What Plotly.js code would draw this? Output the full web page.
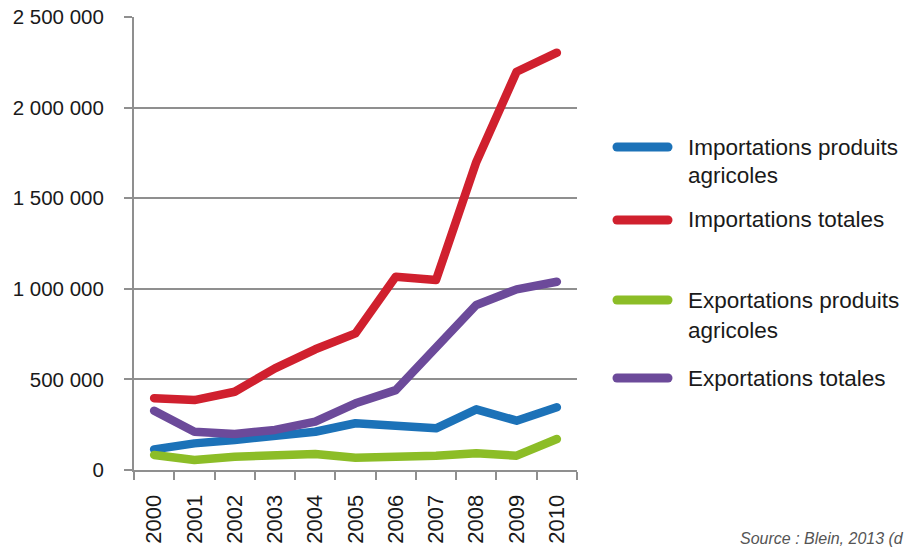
<!DOCTYPE html>
<html>
<head>
<meta charset="utf-8">
<script src="https://cdn.plot.ly/plotly-3.0.1.min.js"></script>
<style>
html,body{margin:0;padding:0;background:#fff;}
#chart{width:909px;height:551px;}
.scatterlayer .js-line{stroke-linecap:round;stroke-linejoin:round;}
.shapelayer path{stroke-linecap:round;}
</style>
</head>
<body>
<div id="chart"></div>
<script>
// ---- data ----
var years = ["2000","2001","2002","2003","2004","2005","2006","2007","2008","2009","2010"];
var importAgri   = [114000, 147000, 166000, 188000, 211000, 258000, 239000, 230000, 335000, 272000, 346000];
var importTotal  = [396000, 386000, 432000, 561000, 666000, 754000, 1067000, 1049000, 1700000, 2198000, 2303000];
var exportAgri   = [83000, 55000, 73000, 79000, 88000, 68000, 68000, 79000, 92000, 79000, 171000];
var exportTotal  = [327000, 211000, 199000, 221000, 267000, 368000, 441000, 680000, 911000, 997000, 1039000];
var seriesNames  = ["Importations produits agricoles", "Importations totales", "Exportations produits agricoles", "Exportations totales"];
var legendLines  = [["Importations produits", "agricoles"], ["Importations totales"], ["Exportations produits", "agricoles"], ["Exportations totales"]];
var yTickVals    = [0, 500000, 1000000, 1500000, 2000000, 2500000];
var yTickLabels  = ["0", "500 000", "1 000 000", "1 500 000", "2 000 000", "2 500 000"];
var sourceText   = "Source : Blein, 2013 (d";

// ---- styles ----
var colors = ["#1c72b8", "#d0202e", "#8cbd27", "#6c4a9a"];
var seriesData = [importAgri, importTotal, exportAgri, exportTotal];
var FONT = "Liberation Sans, Arial, sans-serif";
var gridCol = "#8f8f8f";

var W = 909, H = 551;
var mL = 134, mR = 332, mT = 17, mB = 81;
var plotW = W - mL - mR, plotH = H - mT - mB;
function px(x){ return (x - mL) / plotW; }
function py(y){ return (H - mB - y) / plotH; }

var traces = seriesData.map(function(vals, i){
  return {
    type: "scatter", mode: "lines",
    x: years, y: vals, name: seriesNames[i],
    line: {color: colors[i], width: 8.5},
    hoverinfo: "x+y+name"
  };
});

// custom legend
var legendY = [[147, 175], [220], [300, 330], [378]];
var shapes = [], annotations = [];
for (var i = 0; i < 4; i++) {
  shapes.push({
    type: "line", xref: "paper", yref: "paper",
    x0: px(617), x1: px(668), y0: py(legendY[i][0]), y1: py(legendY[i][0]),
    line: {color: colors[i], width: 9}
  });
  for (var j = 0; j < legendLines[i].length; j++) {
    annotations.push({
      xref: "paper", yref: "paper", x: px(686), y: py(legendY[i][j]),
      xanchor: "left", yanchor: "middle", showarrow: false,
      text: legendLines[i][j], font: {family: FONT, size: 22.5, color: "#1a1a1a"}
    });
  }
}
annotations.push({
  xref: "paper", yref: "paper", x: px(906), y: py(538),
  xanchor: "right", yanchor: "middle", showarrow: false,
  text: "<i>" + sourceText + "</i>", font: {family: FONT, size: 16, color: "#555555"}
});

var layout = {
  width: W, height: H,
  margin: {l: mL, r: mR, t: mT, b: mB, pad: 0},
  paper_bgcolor: "#ffffff", plot_bgcolor: "#ffffff",
  showlegend: false,
  font: {family: FONT, color: "#1a1a1a"},
  xaxis: {
    type: "category", range: [-0.5, 10.5],
    showgrid: false, zeroline: false,
    showline: true, linecolor: gridCol, linewidth: 2,
    ticks: "outside", tickson: "boundaries", ticklen: 8, tickwidth: 2, tickcolor: gridCol,
    tickangle: -90, tickfont: {family: FONT, size: 22, color: "#1a1a1a"},
    ticklabelstandoff: 14, fixedrange: true
  },
  yaxis: {
    range: [0, 2500000],
    tickmode: "array", tickvals: yTickVals, ticktext: yTickLabels,
    showgrid: true, gridcolor: gridCol, gridwidth: 2,
    zeroline: false,
    showline: true, linecolor: gridCol, linewidth: 2,
    ticks: "outside", ticklen: 8, tickwidth: 2, tickcolor: gridCol,
    tickfont: {family: FONT, size: 20.5, color: "#1a1a1a"},
    ticklabelstandoff: 16, fixedrange: true
  },
  shapes: shapes,
  annotations: annotations
};

Plotly.newPlot("chart", traces, layout, {displayModeBar: false, staticPlot: true});
</script>
</body>
</html>
